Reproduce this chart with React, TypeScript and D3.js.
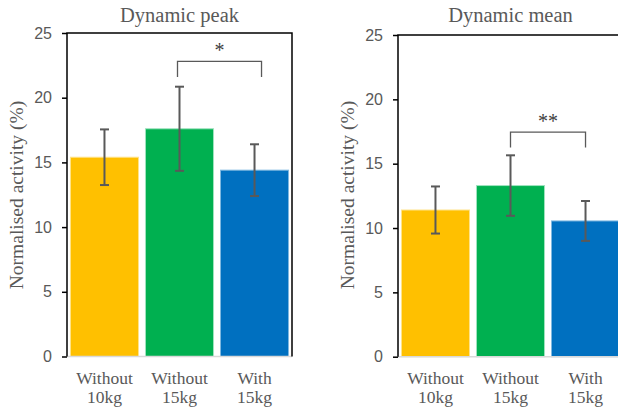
import { useEffect, useRef } from 'react';
import * as d3 from 'd3';

const groups = ['Without|10kg', 'Without|15kg', 'With|15kg'];
const colors = ['#FFC000', '#00B050', '#0070C0'];
const strokes = ['#FFE38A', '#9FE3BF', '#7FB8E0'];
const yTicks = [0, 5, 10, 15, 20, 25];

const peakMeans = [15.4, 17.6, 14.4];
const peakErrors = [2.15, 3.25, 2.0];
const meanMeans = [11.4, 13.3, 10.55];
const meanErrors = [1.83, 2.35, 1.55];

const panels = [
  {
    title: 'Dynamic peak', means: peakMeans, errors: peakErrors,
    left: 67, right: 292, top: 33, bottom: 356.5,
    sig: { from: 1, to: 2, y: 22.8, drop: 21.6, label: '*', dl: -2, dr: 7 },
  },
  {
    title: 'Dynamic mean', means: meanMeans, errors: meanErrors,
    left: 398, right: 623, top: 35, bottom: 356.7,
    sig: { from: 1, to: 2, y: 17.45, drop: 16.25, label: '**', dl: 0, dr: 0 },
  },
];

const serif = '"Liberation Serif", "Times New Roman", serif';

const App = () => {
  const svgRef = useRef(null);

  useEffect(() => {
    const svg = d3.select(svgRef.current);
    svg.selectAll('*').remove();

    panels.forEach((p) => {
      const g = svg.append('g');
      const x = d3.scaleBand().domain(groups).range([p.left, p.right]).paddingInner(0.093).paddingOuter(0.046);
      const y = d3.scaleLinear().domain([0, 25]).range([p.bottom, p.top]);

      // bars
      g.selectAll('rect.bar')
        .data(p.means)
        .enter()
        .append('rect')
        .attr('x', (d, i) => x(groups[i]))
        .attr('y', (d) => y(d))
        .attr('width', x.bandwidth())
        .attr('height', (d) => y(0) - y(d))
        .attr('fill', (d, i) => colors[i])
        .attr('stroke', (d, i) => strokes[i])
        .attr('stroke-width', 1);

      // x axis line (light)
      g.append('line')
        .attr('x1', p.left).attr('x2', p.right)
        .attr('y1', y(0)).attr('y2', y(0))
        .attr('stroke', '#d9d9d9').attr('stroke-width', 1.5);

      // frame: left, top, right
      g.append('path')
        .attr('d', `M${p.left},${y(0)}V${p.top}H${p.right}V${y(0)}`)
        .attr('fill', 'none').attr('stroke', '#000').attr('stroke-width', 1.5);

      // y ticks
      const yAxis = d3.axisLeft(y).tickValues(yTicks).tickSize(5).tickPadding(10);
      const ya = g.append('g').attr('transform', `translate(${p.left},0)`).call(yAxis);
      ya.select('.domain').remove();
      ya.selectAll('.tick line').attr('stroke', '#000').attr('stroke-width', 1.5);
      ya.selectAll('text')
        .attr('fill', '#595959')
        .style('font-family', '"Liberation Sans", Arial, sans-serif')
        .style('font-size', '16px');

      // error bars
      p.means.forEach((m, i) => {
        const cx = x(groups[i]) + x.bandwidth() / 2;
        const e = p.errors[i];
        const eg = g.append('g').attr('stroke', '#595959').attr('stroke-width', 2);
        eg.append('line').attr('x1', cx).attr('x2', cx).attr('y1', y(m + e)).attr('y2', y(m - e));
        eg.append('line').attr('x1', cx - 4.5).attr('x2', cx + 4.5).attr('y1', y(m + e)).attr('y2', y(m + e));
        eg.append('line').attr('x1', cx - 4.5).attr('x2', cx + 4.5).attr('y1', y(m - e)).attr('y2', y(m - e));
      });

      // significance bracket
      const s = p.sig;
      const x1 = x(groups[s.from]) + x.bandwidth() / 2 + s.dl;
      const x2 = x(groups[s.to]) + x.bandwidth() / 2 + s.dr;
      g.append('path')
        .attr('d', `M${x1},${y(s.drop)}V${y(s.y)}H${x2}V${y(s.drop)}`)
        .attr('fill', 'none').attr('stroke', '#595959').attr('stroke-width', 1.3);
      g.append('text')
        .attr('x', (x1 + x2) / 2)
        .attr('y', y(s.y) - 4)
        .attr('text-anchor', 'middle')
        .attr('fill', '#404040')
        .style('font-family', serif)
        .style('font-size', '20px')
        .text(s.label);

      // x labels
      groups.forEach((lbl, i) => {
        const cx = x(lbl) + x.bandwidth() / 2;
        const t = g.append('text')
          .attr('text-anchor', 'middle')
          .attr('fill', '#595959')
          .style('font-family', serif)
          .style('font-size', '17.5px');
        lbl.split('|').forEach((part, k) => {
          t.append('tspan').attr('x', cx).attr('y', 384 + k * 19).text(part);
        });
      });

      // title
      const midX = p.left + (292 - 67) / 2;
      g.append('text')
        .attr('x', midX)
        .attr('y', 22)
        .attr('text-anchor', 'middle')
        .attr('fill', '#595959')
        .style('font-family', serif)
        .style('font-size', '20.5px')
        .text(p.title);

      // y label
      g.append('text')
        .attr('transform', `translate(${p.left - 44},${195}) rotate(-90)`)
        .attr('text-anchor', 'middle')
        .attr('fill', '#595959')
        .style('font-family', serif)
        .style('font-size', '19.5px')
        .text('Normalised activity (%)');
    });
  }, []);

  return (
    <svg
      ref={svgRef}
      width="618"
      height="410"
      style={{ position: 'absolute', left: 0, top: 0, background: '#fff' }}
    ></svg>
  );
};

export default App;
